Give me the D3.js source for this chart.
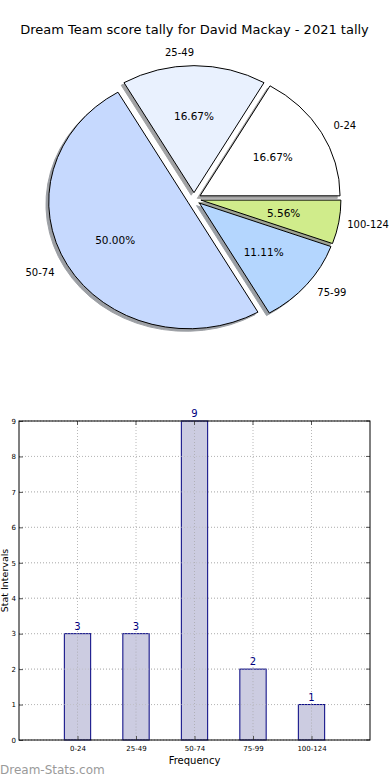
<!DOCTYPE html>
<html><head><meta charset="utf-8">
<script src="https://cdn.jsdelivr.net/npm/d3@7"></script>
<style>body{margin:0;background:#fff;}svg{display:block;font-family:"DejaVu Sans",sans-serif;}</style>
</head><body>
<script>
const title = "Dream Team score tally for David Mackay - 2021 tally";
const categories = ["0-24","25-49","50-74","75-99","100-124"];
const counts = [3,3,9,2,1];
const sliceColors = ["#ffffff","#e9f1fe","#c6d9fe","#b4d6fe","#d0ec8b"];
const yTicks = [0,1,2,3,4,5,6,7,8,9];

const W=390,H=780;
const svg=d3.select("body").append("svg").attr("width",W).attr("height",H);

svg.append("text").attr("x",194.5).attr("y",34).attr("text-anchor","middle")
  .attr("font-size",13).attr("fill","#000").text(title);

// ---- Pie (elliptical, exploded, shadowed) ----
const cx=194, cy=199, rx=140, ry=127, ex=0.05;
const total=d3.sum(counts);
const pie=d3.pie().sort(null).value(d=>d)
  .startAngle(Math.PI/2).endAngle(Math.PI/2-2*Math.PI); // CCW from 3 o'clock
const arcs=pie(counts);
const arcGen=d3.arc().innerRadius(0).outerRadius(1);
const sx=d3.scaleLinear().domain([-1,1]).range([-rx,rx]);
const sy=d3.scaleLinear().domain([-1,1]).range([-ry,ry]);

function midTheta(a){
  const m=(a.startAngle+a.endAngle)/2;
  return Math.PI/2 - m;
}
const pieG=svg.append("g");
const shadowG=pieG.append("g");
const wedgeG=pieG.append("g");
arcs.forEach((a,i)=>{
  const t=midTheta(a);
  const ox=cx+sx(ex*Math.cos(t)), oy=cy-sy(ex*Math.sin(t));
  a.ox=ox; a.oy=oy; a.t=t;
  const s=a.startAngle<a.endAngle?a:{...a,startAngle:a.endAngle,endAngle:a.startAngle};
  const p=arcGen(s);
  const col=d3.color(sliceColors[i]);
  const sc=d3.rgb(col.r*0.3,col.g*0.3,col.b*0.3);
  shadowG.append("path").attr("d",p)
    .attr("transform",`translate(${ox-0.02*rx},${oy+0.02*ry}) scale(${rx},${ry})`)
    .attr("fill",sc).attr("stroke",sc).attr("stroke-width",1/rx).attr("opacity",0.5);
  wedgeG.append("path").attr("d",p)
    .attr("transform",`translate(${ox},${oy}) scale(${rx},${ry})`)
    .attr("fill",sliceColors[i]).attr("stroke","#000").attr("stroke-width",1)
    .attr("vector-effect","non-scaling-stroke");
});
arcs.forEach((a,i)=>{
  const lx=a.ox+sx(1.1*Math.cos(a.t)), ly=a.oy-sy(1.1*Math.sin(a.t));
  const tx=pieG.append("text").attr("x",lx).attr("y",ly).attr("dy","0.35em")
    .attr("text-anchor",Math.cos(a.t)>1e-6?"start":"end")
    .attr("font-size",10).text(categories[i]);
  const bb=tx.node().getBBox();
  if(bb.x+bb.width>W-1) tx.attr("x",lx-(bb.x+bb.width-(W-1)));
  const px=a.ox+sx(0.6*Math.cos(a.t)), py=a.oy-sy(0.6*Math.sin(a.t));
  pieG.append("text").attr("x",px).attr("y",py).attr("dy","0.35em")
    .attr("text-anchor","middle").attr("font-size",10.5)
    .text((counts[i]/total*100).toFixed(2)+"%");
});

// ---- Bar chart ----
const L=19,R=370,T=421,B=740;
const x=d3.scaleLinear().domain([-1,5]).range([L,R]);
const y=d3.scaleLinear().domain([0,9]).range([B,T]);
const g=svg.append("g");
g.selectAll(".gy").data(yTicks).enter().append("line")
  .attr("x1",L).attr("x2",R).attr("y1",d=>y(d)).attr("y2",d=>y(d))
  .attr("stroke","#b8b8b8").attr("stroke-dasharray","1,2");
g.selectAll(".gx").data(categories).enter().append("line")
  .attr("x1",(d,i)=>x(i)).attr("x2",(d,i)=>x(i)).attr("y1",T).attr("y2",B)
  .attr("stroke","#b8b8b8").attr("stroke-dasharray","1,2");
const bw=x(0.45)-x(0);
g.selectAll(".bar").data(counts).enter().append("rect")
  .attr("x",(d,i)=>x(i)-bw/2).attr("width",bw)
  .attr("y",d=>y(d)).attr("height",d=>B-y(d))
  .attr("fill","#cccce1").attr("stroke","#000080").attr("stroke-width",1);
g.selectAll(".gx2").data(categories).enter().append("line")
  .attr("x1",(d,i)=>x(i)).attr("x2",(d,i)=>x(i)).attr("y1",(d,i)=>y(counts[i])).attr("y2",B)
  .attr("stroke","#b0b0b8").attr("stroke-dasharray","1,2");
g.selectAll(".gy2").data(yTicks).enter().append("line")
  .attr("x1",L).attr("x2",R).attr("y1",d=>y(d)).attr("y2",d=>y(d))
  .attr("stroke","#b8b8b8").attr("stroke-dasharray","1,2").attr("opacity",0.6);
g.selectAll(".lbl").data(counts).enter().append("text")
  .attr("x",(d,i)=>x(i)).attr("y",d=>y(d)-4).attr("text-anchor","middle")
  .attr("font-size",10).attr("fill","#000080").text(d=>d);
const yAxis=d3.axisLeft(y).tickValues(yTicks).tickSize(-4).tickPadding(3);
const ya=g.append("g").attr("transform",`translate(${L},0)`).call(yAxis);
const xAxis=d3.axisBottom(x).tickValues(d3.range(categories.length))
  .tickFormat(i=>categories[i]).tickSize(-4).tickPadding(6);
const xa=g.append("g").attr("transform",`translate(0,${B})`).call(xAxis);
[ya,xa].forEach(a=>{a.select(".domain").remove();
  a.selectAll("text").attr("font-size",7).attr("font-family","DejaVu Sans").attr("fill","#000");
  a.selectAll("line").attr("stroke","#555");});
g.selectAll(".rt").data(yTicks).enter().append("line")
  .attr("x1",R-4).attr("x2",R).attr("y1",d=>y(d)).attr("y2",d=>y(d)).attr("stroke","#555");
g.selectAll(".tt").data(categories).enter().append("line")
  .attr("x1",(d,i)=>x(i)).attr("x2",(d,i)=>x(i)).attr("y1",T).attr("y2",T+4).attr("stroke","#555");
g.append("rect").attr("x",L).attr("y",T).attr("width",R-L).attr("height",B-T)
  .attr("fill","none").attr("stroke","#000").attr("stroke-width",1);
svg.append("text").attr("x",(L+R)/2).attr("y",764).attr("text-anchor","middle")
  .attr("font-size",10).text("Frequency");
svg.append("text").attr("transform",`translate(8,${(T+B)/2}) rotate(-90)`)
  .attr("text-anchor","middle").attr("font-size",9.5).text("Stat Intervals");
svg.append("text").attr("x",0).attr("y",774).attr("font-size",12)
  .attr("fill","#9a9a9a").text("Dream-Stats.com");
</script>
</body></html>
